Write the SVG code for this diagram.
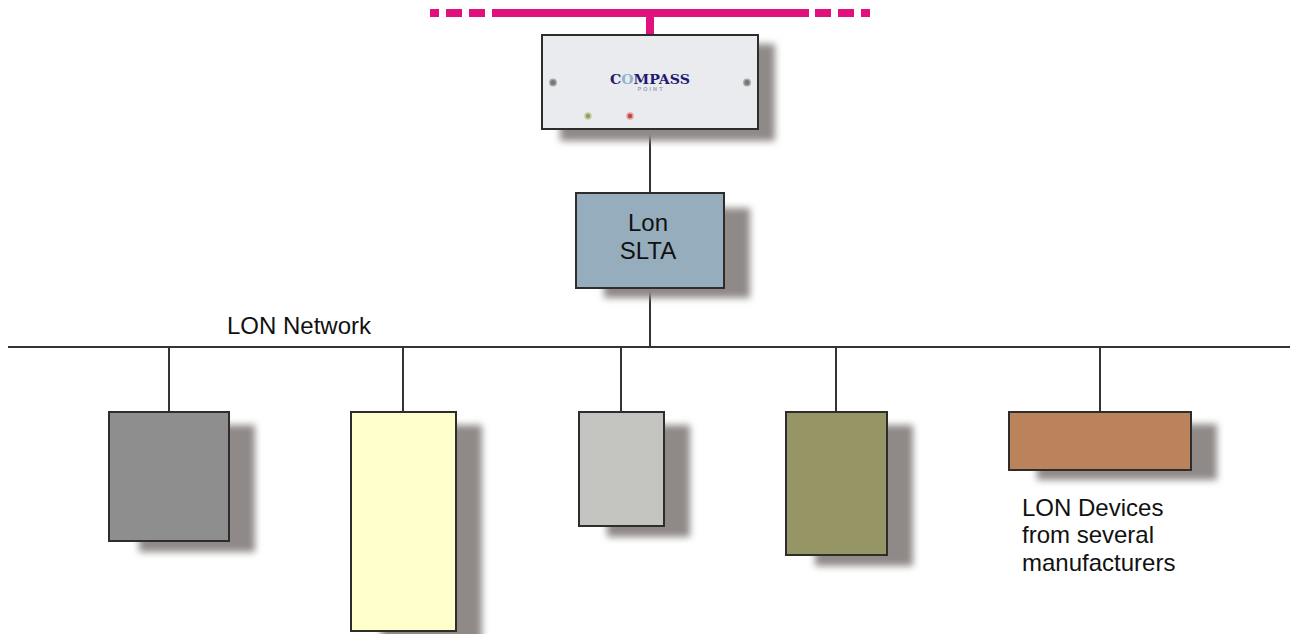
<svg xmlns="http://www.w3.org/2000/svg" width="1290" height="634" viewBox="0 0 1290 634">
<style>
.box{stroke:#2f2c2c;stroke-width:2}
.sh{fill:#8f8a88;filter:url(#blur)}
.wire{stroke:#333;stroke-width:2;fill:none}
.bus{fill:#e0107c}
.lbl{font-family:"Liberation Sans",Arial,sans-serif;font-size:24px;fill:#111}
.screw{fill:#777;stroke:#a8a8a8;stroke-width:1.4}
.led{stroke-width:1.6}
</style>
<defs><filter id="blur" x="-20%" y="-20%" width="140%" height="140%"><feGaussianBlur stdDeviation="3.5"/></filter></defs>
<rect width="1290" height="634" fill="#fff"/>
<g id="backbone">
<rect class="bus" x="430" y="9" width="9" height="8"/>
<rect class="bus" x="446" y="9" width="16" height="8"/>
<rect class="bus" x="469" y="9" width="16" height="8"/>
<rect class="bus" x="492" y="9" width="317" height="8"/>
<rect class="bus" x="815" y="9" width="16" height="8"/>
<rect class="bus" x="838" y="9" width="16" height="8"/>
<rect class="bus" x="861" y="9" width="9" height="8"/>
<rect class="bus" x="646" y="17" width="8" height="18"/>
</g>
<g id="connectors">
<path class="wire" d="M8 347H1290M650 129V193M650 288V347M169 347V412M403 347V412M621 347V412M836 347V412M1100 347V412"/>
</g>
<g id="gateway">
<rect class="sh" x="560" y="44" width="215" height="97"/>
<rect class="box" x="542" y="35" width="216" height="94" fill="#e9ebee"/>
<circle class="screw" cx="553" cy="82.5" r="3.2"/>
<circle class="screw" cx="747" cy="82.5" r="3.2"/>
<circle class="led" cx="588" cy="116" r="3" fill="#8f9f63" stroke="#c5cfa5"/>
<circle class="led" cx="630" cy="116" r="3" fill="#c8453f" stroke="#dca59f"/>
<text x="650" y="84" text-anchor="middle" textLength="80" lengthAdjust="spacingAndGlyphs" font-family="'DejaVu Serif',serif" font-weight="bold" font-size="12.5" fill="#1f1a70">C<tspan fill="#8fb4d0">O</tspan>MPASS</text>
<text x="650" y="91" text-anchor="middle" textLength="25" font-family="'Liberation Sans',sans-serif" font-size="5.5" font-weight="bold" fill="#98a4b2">POINT</text>
</g>
<g id="slta">
<rect class="sh" x="604" y="208" width="146" height="90"/>
<rect class="box" x="576" y="193" width="148" height="95" fill="#95adbc"/>
<text class="lbl" x="648" y="231" text-anchor="middle">Lon</text>
<text class="lbl" x="648" y="259" text-anchor="middle">SLTA</text>
</g>
<text class="lbl" x="227" y="334">LON Network</text>
<g id="device1">
<rect class="sh" x="139" y="425" width="116" height="127"/>
<rect class="box" x="109" y="412" width="120" height="129" fill="#8e8e8e"/>
</g>
<g id="device2">
<rect class="sh" x="381" y="425" width="101" height="220"/>
<rect class="box" x="351" y="412" width="105" height="219" fill="#ffffcc"/>
</g>
<g id="device3">
<rect class="sh" x="607" y="425" width="83" height="112"/>
<rect class="box" x="579" y="412" width="85" height="114" fill="#c3c4bf"/>
</g>
<g id="device4">
<rect class="sh" x="815" y="425" width="98" height="141"/>
<rect class="box" x="786" y="412" width="101" height="143" fill="#969566"/>
</g>
<g id="device5">
<rect class="sh" x="1037" y="424" width="180" height="56"/>
<rect class="box" x="1009" y="412" width="182" height="58" fill="#bb835b"/>
</g>
<g id="devices-label">
<text class="lbl" x="1022" y="516">LON Devices</text>
<text class="lbl" x="1022" y="543">from several</text>
<text class="lbl" x="1022" y="571">manufacturers</text>
</g>
</svg>
